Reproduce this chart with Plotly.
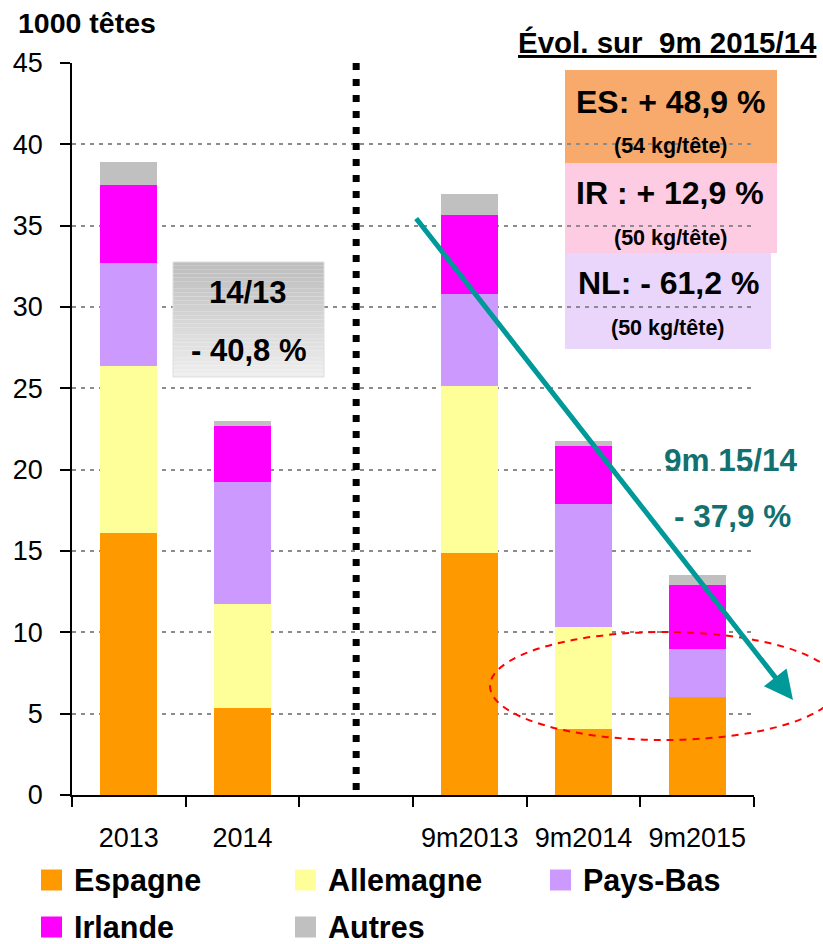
import plotly.graph_objects as go

# ---------------- data ----------------
categories = ["2013", "2014", " ", "9m2013", "9m2014", "9m2015"]
espagne = [16.1, 5.35, 0, 14.9, 4.05, 6.03]
allemagne = [10.3, 6.4, 0, 10.25, 6.3, 0]
pays_bas = [6.3, 7.5, 0, 5.65, 7.55, 2.95]
irlande = [4.8, 3.45, 0, 4.85, 3.55, 3.93]
autres = [1.4, 0.3, 0, 1.3, 0.3, 0.62]
series_names = ["Espagne", "Allemagne", "Pays-Bas", "Irlande", "Autres"]
series_values = [espagne, allemagne, pays_bas, irlande, autres]
series_colors = ["#FF9900", "#FFFF99", "#CC99FF", "#FF00FF", "#C0C0C0"]
y_ticks = [0, 5, 10, 15, 20, 25, 30, 35, 40, 45]

# ---------------- geometry helpers ----------------
W, H = 823, 944
L, R, T, B = 72, 69, 63, 149
PW = W - L - R
PH = H - T - B
FONT = "Liberation Sans, Arial, sans-serif"


def px(x):
    return (x - L) / PW


def py(y):
    return (H - B - y) / PH


fig = go.Figure()
for name, vals, col in zip(series_names, series_values, series_colors):
    fig.add_trace(go.Bar(x=categories, y=vals, name=name, marker_color=col,
                         marker_line_width=0, showlegend=False))

shapes = []
annotations = []

# gradient box "14/13"
n = 30
y_top, y_bot = 262, 377
for i in range(n):
    t = i / (n - 1)
    c = int(190 + (238 - 190) * t)
    shapes.append(dict(type="rect", xref="paper", yref="paper",
                       x0=px(173), x1=px(324),
                       y0=py(y_top + (y_bot - y_top) * (i + 1) / n),
                       y1=py(y_top + (y_bot - y_top) * i / n),
                       fillcolor=f"rgb({c},{c},{c})", line_width=0, layer="above"))
shapes.append(dict(type="rect", xref="paper", yref="paper",
                   x0=px(173), x1=px(324), y0=py(y_bot), y1=py(y_top),
                   line=dict(color="#DDDDDD", width=1), layer="above"))

# coloured boxes (gridlines remain visible through them)
for (x0, x1, y0, y1, col) in [(565, 777, 70, 163, "#F8A96C"),
                              (565, 777, 163, 253, "#FDCCE2"),
                              (565, 771, 253, 349, "#EAD6FB")]:
    shapes.append(dict(type="rect", xref="paper", yref="paper",
                       x0=px(x0), x1=px(x1), y0=py(y1), y1=py(y0),
                       fillcolor=col, line_width=0, layer="below"))

# dotted separator
shapes.append(dict(type="line", xref="x", yref="y", x0=2, x1=2, y0=45, y1=0,
                   line=dict(color="black", width=7, dash="7px,9px"), layer="above"))

# red dashed ellipse
shapes.append(dict(type="circle", xref="paper", yref="paper",
                   x0=px(490), x1=px(838), y0=py(740), y1=py(632),
                   line=dict(color="#FF0000", width=2, dash="7px,6px"), layer="above"))


def txt(text, x, y, size, color="black", xanchor="center", bold=True):
    annotations.append(dict(text=f"<b>{text}</b>" if bold else text,
                            xref="paper", yref="paper", x=px(x), y=py(y),
                            xanchor=xanchor, yanchor="middle", showarrow=False,
                            font=dict(family=FONT, size=size, color=color)))


txt("1000 têtes", 16, 23, 28.5, xanchor="left")
txt("<u>Évol. sur\u00a0\u00a09m 2015/14</u>", 819, 43, 29.5, xanchor="right")
txt("14/13", 248, 292, 31)
txt("- 40,8 %", 248, 350, 31)
txt("ES: + 48,9 %", 670, 102, 32)
txt("(54 kg/tête)", 671, 146, 21.5)
txt("IR : + 12,9 %", 670, 193, 32)
txt("(50 kg/tête)", 671, 238, 21.5)
txt("NL: - 61,2 %", 668, 283, 32)
txt("(50 kg/tête)", 668, 328, 21.5)
txt("9m 15/14", 731, 460, 31.5, color="#127070")
txt("- 37,9 %", 732, 516, 31.5, color="#127070")

# teal arrow
annotations.append(dict(text="", xref="paper", yref="paper", x=px(793), y=py(700),
                        ax=415 - 793, ay=217 - 700, showarrow=True,
                        arrowhead=2, arrowsize=1.15, arrowwidth=5,
                        arrowcolor="#009999"))

# custom legend
legend_pos = [(41, 880), (295, 880), (550, 880), (41, 927), (295, 927)]
for (lx, ly), name, col in zip(legend_pos, series_names, series_colors):
    shapes.append(dict(type="rect", xref="paper", yref="paper",
                       x0=px(lx), x1=px(lx + 21), y0=py(ly + 10.5), y1=py(ly - 10.5),
                       fillcolor=col, line_width=0, layer="above"))
    txt(name, lx + 31, ly, 30.5, xanchor="left")

fig.update_layout(
    width=W, height=H,
    margin=dict(l=L, r=R, t=T, b=B, pad=0),
    barmode="stack", bargap=0.5,
    paper_bgcolor="white", plot_bgcolor="rgba(0,0,0,0)",
    font=dict(family=FONT, size=27, color="black"),
    shapes=shapes, annotations=annotations,
    showlegend=False,
    xaxis=dict(type="category", categoryorder="array", categoryarray=categories,
               tickson="boundaries", ticks="outside", ticklen=10, tickwidth=1.5,
               tickcolor="black", showline=True, linecolor="black", linewidth=1.5,
               showgrid=False, ticklabelstandoff=18,
               tickfont=dict(family=FONT, size=27, color="black")),
    yaxis=dict(range=[0, 45], tickmode="array", tickvals=y_ticks,
               ticks="outside", ticklen=10, tickwidth=1.5, tickcolor="black",
               showline=True, linecolor="black", linewidth=1.5,
               showgrid=True, gridcolor="#8C8C8C", griddash="4px,5px", gridwidth=1.5,
               zeroline=False, ticklabelstandoff=12,
               tickfont=dict(family=FONT, size=27, color="black")),
)

fig.write_html("out.html", config={"displayModeBar": False},
               post_script="document.body.style.margin='0px';"
                           "document.body.style.overflow='hidden';")
